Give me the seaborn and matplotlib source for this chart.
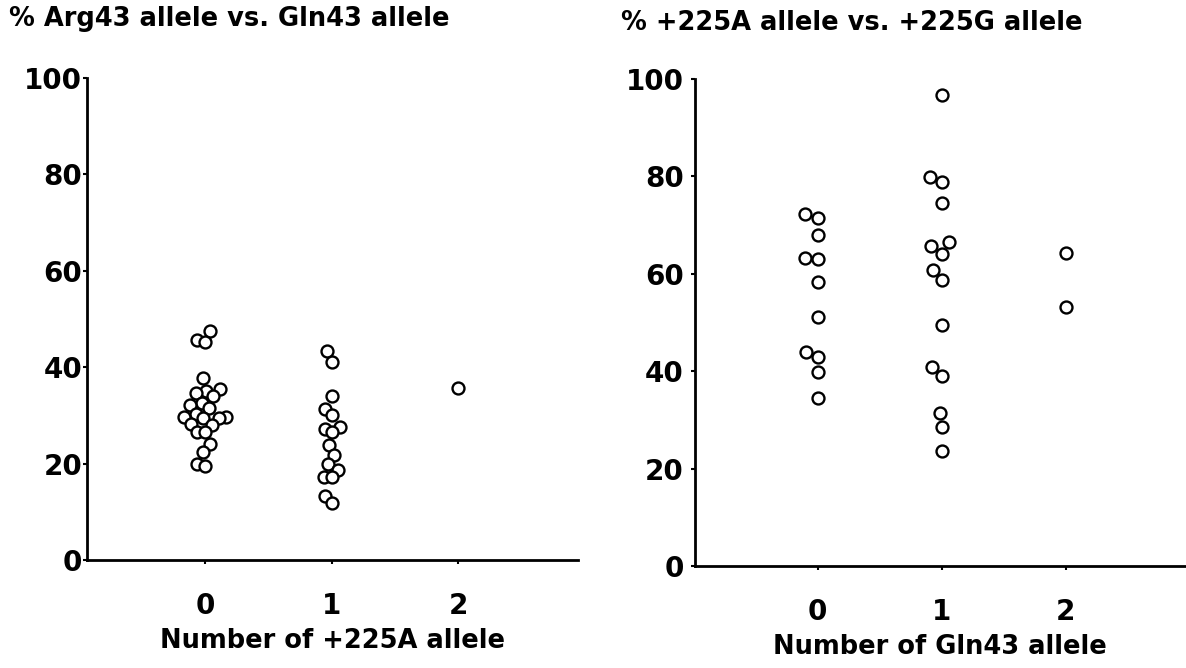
import numpy as np
import pandas as pd
import matplotlib
matplotlib.use("Agg")
import matplotlib.pyplot as plt
import seaborn as sns

# ---- data ----
left_title = "% Arg43 allele vs. Gln43 allele"
left_xlabel = "Number of +225A allele"
left_g0 = [47.5, 45.6, 45.2, 37.8, 35.5, 35.1, 34.6, 34.0, 32.6, 32.2, 31.5, 30.3,
           29.7, 29.7, 29.5, 29.5, 28.2, 28.0, 26.6, 26.6, 24.1, 22.4, 19.9, 19.5]
left_g1 = [43.4, 41.1, 34.0, 31.3, 30.1, 27.6, 27.2, 26.6, 23.9, 21.8, 19.9, 18.7,
           17.2, 17.2, 13.3, 11.8]
left_g2 = [35.7]

right_title = "% +225A allele vs. +225G allele"
right_xlabel = "Number of Gln43 allele"
right_g0 = [72.3, 71.5, 68.0, 63.2, 63.0, 58.3, 51.1, 43.9, 42.9, 39.8, 34.5]
right_g1 = [96.7, 79.9, 78.9, 74.5, 66.5, 65.7, 64.1, 60.8, 58.7, 49.5, 40.9, 39.0,
            31.4, 28.5, 23.6]
right_g2 = [64.3, 53.2]

categories = ["0", "1", "2"]
yticks = [0, 20, 40, 60, 80, 100]


def make_df(groups):
    rows = []
    for cat, vals in zip(categories, groups):
        for v in vals:
            rows.append({"group": cat, "value": v})
    return pd.DataFrame(rows)


df_left = make_df([left_g0, left_g1, left_g2])
df_right = make_df([right_g0, right_g1, right_g2])

sns.set_theme(style="white")
plt.rcParams["font.family"] = ["DejaVu Sans"]
plt.rcParams["text.color"] = "black"
plt.rcParams["axes.labelcolor"] = "black"
plt.rcParams["xtick.color"] = "black"
plt.rcParams["ytick.color"] = "black"

fig = plt.figure(figsize=(11.86, 6.68), dpi=100)
ax1 = fig.add_axes([0.0734, 0.1617, 0.4136, 0.7215])
ax2 = fig.add_axes([0.586, 0.1527, 0.413, 0.7293])

squeeze = {}
for ax, df, xlab, xlim, sq, ypad in [
    (ax1, df_left, left_xlabel, (-0.93, 2.94), 0.52, 0.5),
    (ax2, df_right, right_xlabel, (-0.99, 2.96), 0.85, 5),
]:
    sns.swarmplot(data=df, x="group", y="value", order=categories, ax=ax,
                  size=8.6, color="white", edgecolor="black", linewidth=1.7)
    squeeze[ax] = sq
    ax.set_xlim(*xlim)
    ax.set_ylim(0, 100)
    ax.set_yticks(yticks)
    ax.set_yticklabels([str(t) for t in yticks], fontsize=20, fontweight="bold")
    ax.set_xticks(range(len(categories)))
    ax.set_xticklabels(categories, fontsize=20, fontweight="bold")
    ax.set_xlabel(xlab, fontsize=18.5, fontweight="bold", labelpad=6)
    ax.set_ylabel("")
    for side in ["top", "right"]:
        ax.spines[side].set_visible(False)
    for side in ["left", "bottom"]:
        ax.spines[side].set_color("black")
        ax.spines[side].set_linewidth(2)
    ax.tick_params(axis="x", which="major", direction="out", length=3, width=1.5,
                   pad=20, colors="black", bottom=True)
    ax.tick_params(axis="y", which="major", direction="out", length=3, width=1.5,
                   pad=ypad, colors="black", left=True)
    ax.set_facecolor("white")

fig.text(0.008, 0.972, left_title, fontsize=18.5, fontweight="bold", ha="left", va="center")
fig.text(0.524, 0.966, right_title, fontsize=18.5, fontweight="bold", ha="left", va="center")

# let seaborn compute the swarm layout, then pull points closer to the
# category centre so they overlap like in the original figure
fig.canvas.draw()
for ax in (ax1, ax2):
    for coll in ax.collections:
        off = coll.get_offsets()
        if len(off) == 0:
            continue
        centre = np.round(np.median(off[:, 0]))
        off = np.array(off)
        off[:, 0] = centre + (off[:, 0] - centre) * squeeze[ax]
        if "draw" in coll.__dict__:
            del coll.__dict__["draw"]
        coll.set_offsets(off)

fig.savefig("out.png", dpi=100, facecolor="white")
